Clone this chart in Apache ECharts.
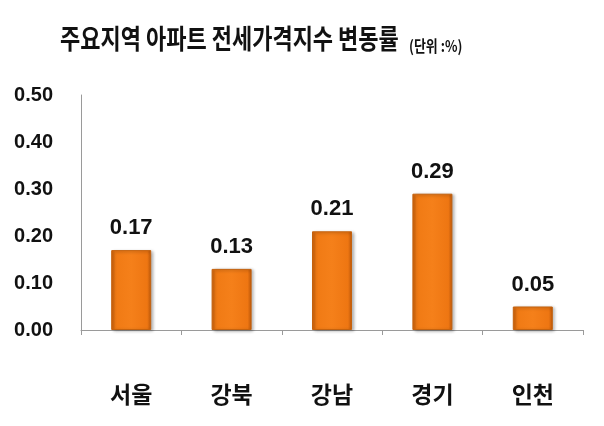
<!DOCTYPE html>
<html><head><meta charset="utf-8">
<script src="https://cdn.jsdelivr.net/npm/echarts@6/dist/echarts.min.js"></script>
<style>html,body{margin:0;padding:0;background:#fff}#c{width:604px;height:426px}</style>
</head><body><div id="c"></div>
<script>
const categories = ['서울', '강북', '강남', '경기', '인천'];
const values = [0.17, 0.13, 0.21, 0.29, 0.05];
const yTicks = [0, 0.1, 0.2, 0.3, 0.4, 0.5];
const titleText = '주요지역 아파트 전세가격지수 변동률';
const unitText = '(단위 :%)';

const chart = echarts.init(document.getElementById('c'), null, {renderer: 'canvas'});
const kfont = '"Noto Sans CJK KR", "Noto Sans", sans-serif';
chart.setOption({
  animation: false,
  backgroundColor: '#fff',
  graphic: [{
    type: 'text', left: 60, top: 25, scaleY: 1.25, z: 10,
    style: {
      text: titleText, fontFamily: kfont, fontSize: 22, fontWeight: 'bold', fill: '#111'
    }
  }, {
    type: 'text', left: 409, top: 38, scaleY: 1.2, z: 10,
    style: {
      text: unitText, fontFamily: kfont, fontSize: 13, fontWeight: 'bold', fill: '#111'
    }
  }],
  grid: { left: 81, right: 21, top: 95, bottom: 96 },
  xAxis: {
    type: 'category', data: categories,
    axisLine: { lineStyle: { color: '#9a9a9a', width: 1 } },
    axisTick: { show: true, length: 5, lineStyle: { color: '#9a9a9a' } },
    axisLabel: { margin: 53, fontFamily: kfont, fontSize: 23, fontWeight: 'bold', color: '#111' }
  },
  yAxis: {
    type: 'value', min: 0, max: 0.5, interval: 0.1,
    axisLine: { show: true, lineStyle: { color: '#9a9a9a', width: 1 } },
    axisTick: { show: false },
    splitLine: { show: false },
    axisLabel: {
      margin: 28, fontFamily: 'Arial, "Liberation Sans", sans-serif', fontSize: 20, fontWeight: 'bold', color: '#111',
      formatter: v => yTicks.includes(Math.round(v * 10) / 10) ? v.toFixed(2) : ''
    }
  },
  series: [{
    type: 'bar', data: values, barWidth: 40,
    itemStyle: {
      color: new echarts.graphic.LinearGradient(0, 0, 1, 0, [
        { offset: 0, color: '#C9600C' },
        { offset: 0.1, color: '#F07A14' },
        { offset: 0.5, color: '#F5801A' },
        { offset: 0.9, color: '#EE7612' },
        { offset: 1, color: '#B9560A' }
      ]),
      borderColor: '#C4620E', borderWidth: 1,
      shadowColor: 'rgba(0,0,0,0.3)', shadowBlur: 3, shadowOffsetX: 2, shadowOffsetY: 1
    },
    label: {
      show: true, position: 'top', distance: 11,
      fontFamily: 'Arial, "Liberation Sans", sans-serif', fontSize: 22, fontWeight: 'bold', color: '#111',
      formatter: p => p.value.toFixed(2)
    }
  }]
});
</script></body></html>
